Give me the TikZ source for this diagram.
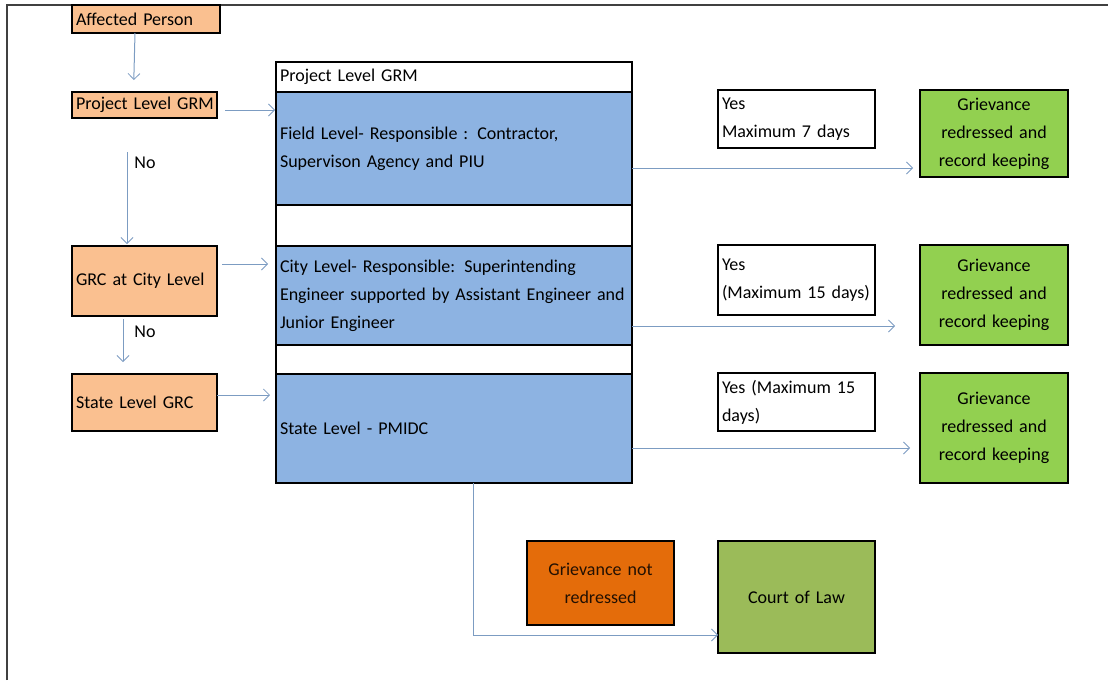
\documentclass[tikz,border=0pt]{standalone}
\usepackage{fontspec}
\setmainfont{Carlito}
\usetikzlibrary{arrows.meta}
\definecolor{lorange}{HTML}{FAC090}
\definecolor{lblue}{HTML}{8DB3E2}
\definecolor{lgreen}{HTML}{92D050}
\definecolor{dorange}{HTML}{E46C0A}
\definecolor{olive}{HTML}{9BBB59}
\definecolor{arrc}{HTML}{7C9CC2}
\definecolor{framec}{HTML}{404040}
\begin{document}
\begin{tikzpicture}[x=1pt,y=-1pt,
  every node/.style={font=\fontsize{18}{28}\selectfont},
  bx/.style={draw=black, line width=1.3pt, inner sep=4pt, outer sep=0pt, rectangle},
  lbox/.style={bx, align=left},
  cbox/.style={bx, align=center},
  arr/.style={draw=arrc, line width=1pt, -{Straight Barb[length=6pt,width=12pt,line width=0.8pt]}},
  lab/.style={inner sep=0pt}
]
\useasboundingbox (0,0) rectangle (1108,680);
\draw[framec, line width=1.6pt] (7,680) -- (7,5) -- (1108,5);

% left column
\node[lbox, fill=lorange, minimum width=148pt, minimum height=28pt, text width=140pt] (ap) at (146,19) {\mbox{Affected Person}};
\node[lbox, fill=lorange, minimum width=145pt, minimum height=26pt, text width=137pt] (plg) at (144.5,105) {\mbox{Project Level GRM}};
\node[lbox, fill=lorange, minimum width=145pt, minimum height=70pt, text width=137pt] (grc) at (144.5,281) {\mbox{GRC at City Level}};
\node[lbox, fill=lorange, minimum width=145pt, minimum height=57pt, text width=137pt] (slg) at (144.5,402.5) {\mbox{State Level GRC}};

% central column
\node[lbox, fill=white, minimum width=356pt, minimum height=30pt, text width=348pt] (hdr) at (454,77) {Project Level GRM};
\node[lbox, fill=lblue, minimum width=356pt, minimum height=113pt, text width=348pt] (field) at (454,148.5) {Field Level- Responsible : Contractor,\\Supervison Agency and PIU};
\node[bx, fill=white, minimum width=356pt, minimum height=41pt] (gapa) at (454,225.5) {};
\node[lbox, fill=lblue, minimum width=356pt, minimum height=99pt, text width=348pt] (city) at (454,295.5) {City Level- Responsible: Superintending\\\mbox{Engineer supported by Assistant Engineer and}\\Junior Engineer};
\node[bx, fill=white, minimum width=356pt, minimum height=29pt] (gapb) at (454,359.5) {};
\node[lbox, fill=lblue, minimum width=356pt, minimum height=109pt, text width=348pt] (state) at (454,428.5) {State Level - PMIDC};

% yes boxes
\node[lbox, fill=white, minimum width=157pt, minimum height=58pt, text width=149pt] (y1) at (796.5,119) {Yes\\Maximum 7 days};
\node[lbox, fill=white, minimum width=157pt, minimum height=70pt, text width=149pt] (y2) at (796.5,280) {Yes\\\mbox{(Maximum 15 days)}};
\node[lbox, fill=white, minimum width=157pt, minimum height=58pt, text width=149pt] (y3) at (796.5,402) {Yes (Maximum 15\\days)};

% green boxes
\node[cbox, fill=lgreen, minimum width=148pt, minimum height=87pt, text width=140pt] (g1) at (994,133.5) {Grievance\\redressed and\\record keeping};
\node[cbox, fill=lgreen, minimum width=148pt, minimum height=100pt, text width=140pt] (g2) at (994,295) {Grievance\\redressed and\\record keeping};
\node[cbox, fill=lgreen, minimum width=148pt, minimum height=110pt, text width=140pt] (g3) at (994,428) {Grievance\\redressed and\\record keeping};

% bottom
\node[cbox, fill=dorange, minimum width=147pt, minimum height=84pt, text width=139pt, text=black!85!dorange] (gnr) at (600.5,583) {Grievance not\\redressed};
\node[cbox, fill=olive, minimum width=157pt, minimum height=112pt, text width=149pt] (court) at (796.5,597) {Court of Law};

% labels
\node[lab] (no1) at (145,163) {No};
\node[lab] (no2) at (145,332) {No};

% connectors
\draw[arr, shorten >=12pt] ([xshift=-11pt]ap.south) -- ([xshift=-11pt]plg.north);
\draw[arr, shorten <=34pt, shorten >=2pt] ([xshift=-17.5pt]plg.south) -- ([xshift=-17.5pt]grc.north);
\draw[arr, shorten <=3pt, shorten >=12pt] ([xshift=-21.5pt]grc.south) -- ([xshift=-21.5pt]slg.north);

\draw[arr, shorten <=8pt, shorten >=1pt] ([yshift=-5pt]plg.east) -- ([yshift=-5pt]plg.east -| field.west);
\draw[arr, shorten <=5pt, shorten >=8pt] ([yshift=17pt]grc.east) -- ([yshift=17pt]grc.east -| city.west);
\draw[arr, shorten >=6pt] ([yshift=7.5pt]slg.east) -- ([yshift=7.5pt]slg.east -| state.west);

\draw[arr, shorten >=7pt] ([yshift=-19.5pt]field.east) -- ([yshift=-19.5pt]field.east -| g1.west);
\draw[arr, shorten >=25pt] ([yshift=-30.5pt]city.east) -- ([yshift=-30.5pt]city.east -| g2.west);
\draw[arr, shorten >=10pt] ([yshift=-19.5pt]state.east) -- ([yshift=-19.5pt]state.east -| g3.west);

\draw[arr] ([xshift=19pt]state.south) |- ([yshift=-38pt]court.west);
\end{tikzpicture}
\end{document}
